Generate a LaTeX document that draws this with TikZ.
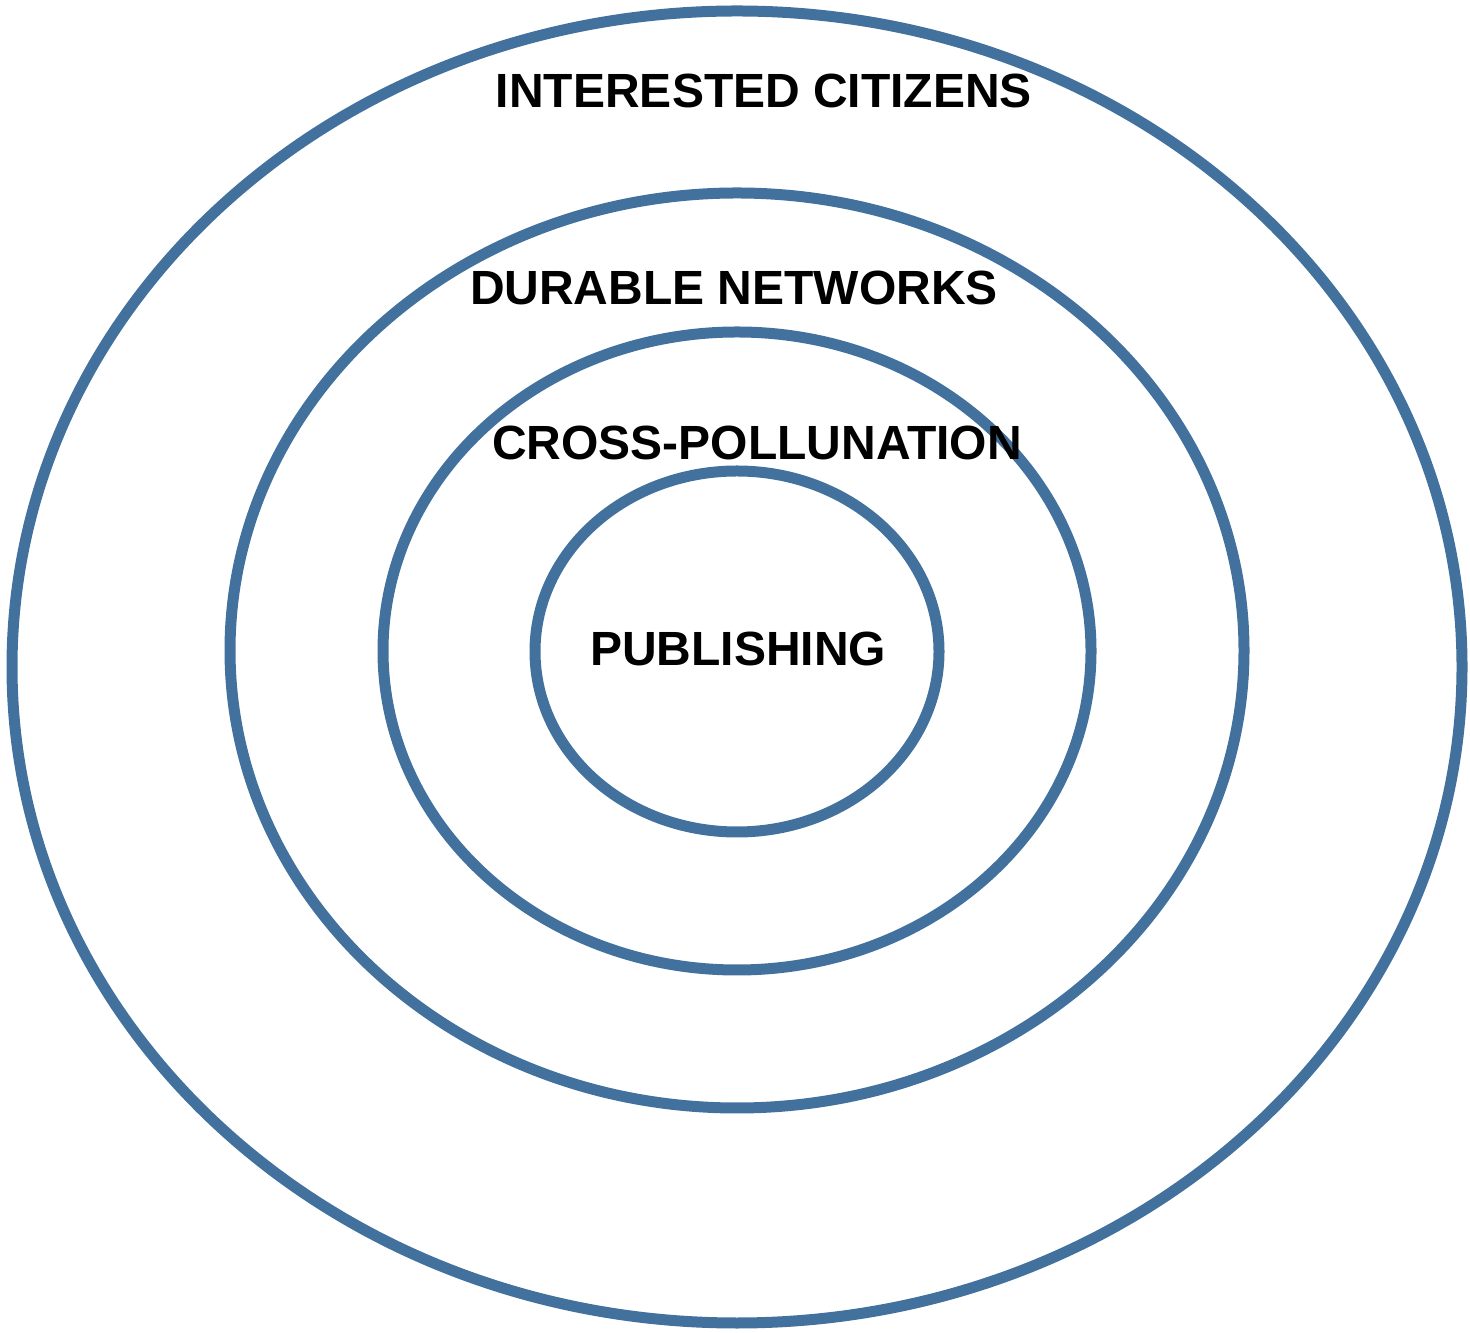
\documentclass[tikz,border=0pt]{standalone}
\usepackage{fontspec}
\setmainfont{Liberation Sans}
\definecolor{ringblue}{RGB}{65,113,156}
\begin{document}
\begin{tikzpicture}[x = 0.5pt, y = 0.5pt]
    \useasboundingbox (0,0) rectangle (1470,1332);
    \begin{scope}[line width = 5.5pt, draw = ringblue]
        \foreach \cy/\rx/\ry in {665/725/656, 681.5/507/457.5, 681/354/319, 680.5/202/180.5} {
            \draw (737,\cy) ellipse[x radius = \rx, y radius = \ry];
        }
    \end{scope}
    \begin{scope}[every node/.append style = {font = \fontsize{24pt}{28pt}\selectfont\bfseries, inner sep = 0pt, anchor = base}]
        \node (citizens) at (764,1224) {INTERESTED CITIZENS};
        \node (networks) at (734,1027) {DURABLE NETWORKS};
        \node (pollution) at (757,872) {CROSS-POLLUNATION};
        \node (publishing) at (738,666) {PUBLISHING};
    \end{scope}
\end{tikzpicture}
\end{document}
